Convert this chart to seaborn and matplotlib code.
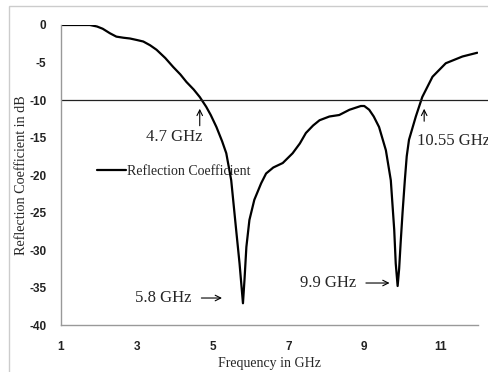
import matplotlib
matplotlib.use("Agg")
import matplotlib.pyplot as plt
import seaborn as sns
import pandas as pd
from matplotlib.patches import Rectangle

freq = [1.0, 1.4, 1.76, 1.95, 2.1, 2.29, 2.46, 2.65, 2.82, 3.0, 3.17, 3.35, 3.52, 3.75,
        3.96, 4.15, 4.31, 4.5, 4.66, 4.83, 4.95, 5.1, 5.25, 5.36, 5.49, 5.62, 5.71, 5.80,
        5.84, 5.89, 5.97, 6.1, 6.28, 6.41, 6.6, 6.85, 7.11, 7.3, 7.46, 7.65, 7.82, 8.08,
        8.34, 8.61, 8.91, 9.0, 9.13, 9.25, 9.39, 9.57, 9.70, 9.79, 9.83, 9.88, 9.92, 9.96,
        10.01, 10.07, 10.12, 10.18, 10.36, 10.53, 10.8, 11.15, 11.59, 11.98]
s11 = [0, 0, 0, -0.2, -0.5, -1.1, -1.55, -1.7, -1.8, -2.0, -2.2, -2.7, -3.3, -4.4,
       -5.6, -6.6, -7.6, -8.6, -9.6, -10.9, -12.0, -13.6, -15.5, -17.1, -20.7, -27.3, -31.8, -37.1,
       -34.0, -29.6, -26.0, -23.3, -21.1, -19.8, -19.0, -18.4, -17.1, -15.8, -14.4, -13.4, -12.7, -12.2,
       -12.0, -11.3, -10.8, -10.8, -11.3, -12.2, -13.6, -16.7, -20.7, -27.3, -31.8, -34.8, -32.5, -29.0,
       -25.0, -20.7, -17.5, -15.3, -12.2, -9.6, -6.9, -5.1, -4.2, -3.7]

x_ticks = [1, 3, 5, 7, 9, 11]
y_ticks = [0, -5, -10, -15, -20, -25, -30, -35, -40]
threshold = -10

df = pd.DataFrame({"Frequency": freq, "S11": s11})

sns.set_style("white")
serif = ["Liberation Serif", "DejaVu Serif"]

fig = plt.figure(figsize=(4.88, 3.72), dpi=100)
ax = fig.add_axes([0.125, 0.1263, 0.8545, 0.8065])

sns.lineplot(data=df, x="Frequency", y="S11", ax=ax, color="black", linewidth=1.6,
             label="Reflection Coefficient", sort=False)
ax.axhline(threshold, color="#222222", linewidth=0.9, clip_on=False, xmax=1.03)

ax.set_xlim(1, 12)
ax.set_ylim(-40, 0)
ax.set_xticks(x_ticks)
ax.set_yticks(y_ticks)
ax.set_xticklabels([str(t) for t in x_ticks])
ax.set_yticklabels([str(t) for t in y_ticks])
for lab in ax.get_xticklabels() + ax.get_yticklabels():
    lab.set_fontweight("bold")
    lab.set_fontsize(8.5)
    lab.set_family(["Liberation Sans", "DejaVu Sans"])
    lab.set_color("#222222")

for s in ["top", "right"]:
    ax.spines[s].set_visible(False)
for s in ["left", "bottom"]:
    ax.spines[s].set_color("#999999")
    ax.spines[s].set_linewidth(1.0)
ax.tick_params(axis="x", direction="out", length=3.5, width=0.8, color="#999999", pad=8)
ax.tick_params(axis="y", direction="out", length=3.5, width=0.8, color="#999999", pad=7)

ax.set_xlabel("Frequency in GHz", family=serif, fontsize=10, labelpad=3)
ax.set_ylabel("Reflection Coefficient in dB", family=serif, fontsize=10.2, labelpad=1)

leg = ax.legend(loc="center left", bbox_to_anchor=(0.086, 0.513), frameon=False,
                borderaxespad=0, borderpad=0, handlelength=2.1, handletextpad=0.1,
                prop={"family": serif, "size": 10})

ann_fs = 12
ax.annotate("4.7 GHz", xy=(4.66, -10.9), xytext=(4.0, -14.9), family=serif, fontsize=ann_fs,
            ha="center", va="center")
ax.annotate("", xy=(4.66, -10.8), xytext=(4.66, -13.8),
            arrowprops=dict(arrowstyle="->", color="black", lw=0.8))
ax.text(10.39, -15.5, "10.55 GHz", family=serif, fontsize=ann_fs, ha="left", va="center",
        clip_on=False)
ax.annotate("", xy=(10.58, -10.8), xytext=(10.58, -13.2),
            arrowprops=dict(arrowstyle="->", color="black", lw=0.8))
ax.text(3.71, -36.4, "5.8 GHz", family=serif, fontsize=ann_fs, ha="center", va="center")
ax.annotate("", xy=(5.32, -36.4), xytext=(4.63, -36.4),
            arrowprops=dict(arrowstyle="->", color="black", lw=0.8))
ax.text(8.05, -34.4, "9.9 GHz", family=serif, fontsize=ann_fs, ha="center", va="center")
ax.annotate("", xy=(9.74, -34.4), xytext=(8.97, -34.4),
            arrowprops=dict(arrowstyle="->", color="black", lw=0.8))

fig.patches.append(Rectangle((9 / 488, -0.1), 1.2, 1.1 - 6 / 372, transform=fig.transFigure,
                             fill=False, edgecolor="#cccccc", linewidth=1.0, clip_on=False))

fig.savefig("out.png", dpi=100)
